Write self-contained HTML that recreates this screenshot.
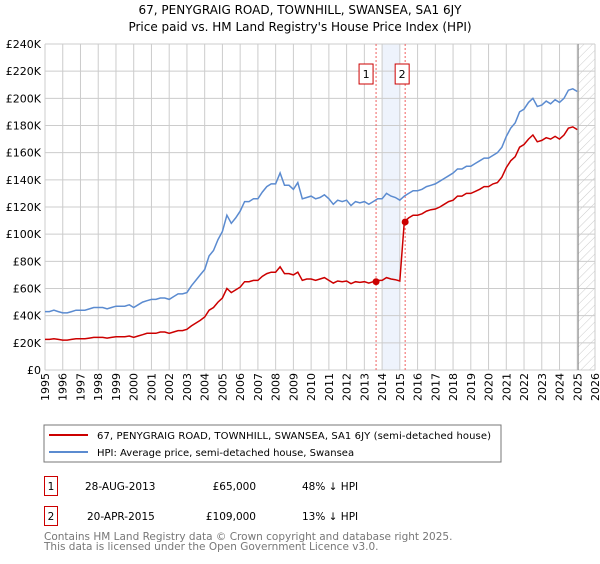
<!DOCTYPE html>
<html><head><meta charset="utf-8"><style>
body{margin:0;background:#fff;width:600px;height:560px;overflow:hidden;font-family:"DejaVu Sans","Liberation Sans",sans-serif;}
svg text{font-family:"DejaVu Sans","Liberation Sans",sans-serif;}
</style></head><body>
<svg id="c" width="600" height="560">
<text x="300" y="14" text-anchor="middle" font-size="12">67, PENYGRAIG ROAD, TOWNHILL, SWANSEA, SA1 6JY</text>
<text x="300" y="31" text-anchor="middle" font-size="12">Price paid vs. HM Land Registry's House Price Index (HPI)</text>
<g id="grid"></g><g id="marks"></g><g id="axes"></g>
<rect x="44" y="425" width="457" height="37" fill="#fff" stroke="#777"/>
<line x1="49" y1="435" x2="88" y2="435" stroke="#cc0000" stroke-width="2"/>
<text x="97" y="439" font-size="10" textLength="394">67, PENYGRAIG ROAD, TOWNHILL, SWANSEA, SA1 6JY (semi-detached house)</text>
<line x1="49" y1="452" x2="88" y2="452" stroke="#5b8bd0" stroke-width="2"/>
<text x="97" y="456" font-size="10">HPI: Average price, semi-detached house, Swansea</text>
<g>
<rect x="44.5" y="476.5" width="13" height="19" fill="none" stroke="#cc0000"/>
<text x="51" y="490" text-anchor="middle" font-size="10.5">1</text>
<text x="85" y="490" font-size="10.5">28-AUG-2013</text>
<text x="256" y="490" text-anchor="end" font-size="10.5">£65,000</text>
<text x="302" y="490" font-size="10.5">48% ↓ HPI</text></g>
<g>
<rect x="44.5" y="506.5" width="13" height="19" fill="none" stroke="#cc0000"/>
<text x="51" y="520" text-anchor="middle" font-size="10.5">2</text>
<text x="87" y="520" font-size="10.5">20-APR-2015</text>
<text x="256" y="520" text-anchor="end" font-size="10.5">£109,000</text>
<text x="302" y="520" font-size="10.5">13% ↓ HPI</text></g>
<text x="44" y="540" font-size="10.5" fill="#777">Contains HM Land Registry data © Crown copyright and database right 2025.</text>
<text x="44" y="550" font-size="10.5" fill="#777">This data is licensed under the Open Government Licence v3.0.</text>
</svg>
<script>
const hpi=[43,43,44,43, 42,42,43,44, 44,44,45,46, 46,46,45,46, 47,47,47,48, 46,48,50,51, 52,52,53,53, 52,54,56,56, 57,62,66,70, 74,84,88,96, 102,114,108,112, 117,124,124,126, 126,131,135,137, 137,145,136,136, 133,138,126,127, 128,126,127,129, 126,122,125,124, 125,121,124,123, 124,122,124,126, 126,130,128,127, 125,128,130,132, 132,133,135,136, 137,139,141,143, 145,148,148,150, 150,152,154,156, 156,158,160,164, 172,178,182,190, 192,197,200,194, 195,198,196,199, 197,200,206,207, 205];
const price=[22.5,22.5,23,22.5, 22,22,22.5,23, 23,23,23.5,24, 24,24,23.5,24, 24.5,24.5,24.5,25, 24,25,26,27, 27,27,28,28, 27,28,29,29, 30,32.5,34.5,36.5, 39,44,46,50, 53,60,57,59, 61,65,65,66, 66,69,71,72, 72,76,71,71, 70,72,66,67, 67,66,67,68, 66,64,65.5,65, 65.5,63.5,65,64.5, 65,64,65,66, 66,68,67,66.5, 65.5,109,112,114, 114,115,117,118, 118.5,120,122,124, 125,128,128,130, 130,131.5,133,135, 135,137,138,142, 149,154,157,164, 166,170,173,168, 169,171,170,172, 170,173,178,179, 177];
const startYear=1995;
const yearTicks=[1995,1996,1997,1998,1999,2000,2001,2002,2003,2004,2005,2006,2007,2008,2009,2010,2011,2012,2013,2014,2015,2016,2017,2018,2019,2020,2021,2022,2023,2024,2025,2026];
const valueTicks=[0,20,40,60,80,100,120,140,160,180,200,220,240];
const saleDates=[2013.66,2015.3];
const saleValues=[65,109];
const saleLabels=["1","2"];
const X0=45,X1=595,Y0=370,Y1=44;
const xs=t=>X0+(t-1995)/(2026-1995)*(X1-X0);
const ys=v=>Y0-v/240*(Y0-Y1);
const NS="http://www.w3.org/2000/svg";
function mk(tag,attrs,parent,txt){const e=document.createElementNS(NS,tag);for(const k in attrs)e.setAttribute(k,attrs[k]);if(txt!=null)e.textContent=txt;parent.appendChild(e);return e;}
const grid=document.getElementById('grid'),marks=document.getElementById('marks'),axes=document.getElementById('axes');
const defs=mk('defs',{},grid);
const pat=mk('pattern',{id:'hatch',width:6,height:6,patternUnits:'userSpaceOnUse',patternTransform:'rotate(45)'},defs);
mk('line',{x1:0,y1:0,x2:0,y2:6,stroke:'#ccc','stroke-width':1},pat);
const shade=mk('rect',{x:xs(2014),y:Y1,width:xs(2015)-xs(2014),height:Y0-Y1,fill:'#eef3fc'},grid);


const hatch=mk('rect',{x:xs(2025.05),y:Y1,width:X1-xs(2025.05),height:Y0-Y1,fill:'url(#hatch)'},grid);


valueTicks.forEach(v=>{
 mk('line',{x1:X0,x2:X1,y1:ys(v),y2:ys(v),stroke:'#ccc'},grid);
 const t=mk('text',{x:X0-4,y:ys(v)+4,'text-anchor':'end','font-size':11},axes,v===0?'£0':'£'+v+'K');
 
 
});
yearTicks.forEach(y=>{
 mk('line',{x1:xs(y),x2:xs(y),y1:Y1,y2:Y0,stroke:'#ccc'},grid);
 const t=mk('text',{transform:`translate(${xs(y)+4},373) rotate(-90)`,'text-anchor':'end','font-size':11},axes,y);
 
 
});
mk('line',{x1:xs(2025.05),x2:xs(2025.05),y1:Y1,y2:Y0,stroke:'#888','stroke-width':1},grid);
saleDates.forEach((d,i)=>{
 mk('line',{x1:xs(d),x2:xs(d),y1:Y1,y2:Y0,stroke:'#f06060','stroke-dasharray':'2,2'},grid);
 const bx=xs(d)-(i===0?10:3);
 const g=mk('g',{},marks);
 
 
 mk('rect',{x:bx-7,y:64,width:14,height:20,fill:'#fff',stroke:'#cc0000'},g);
 mk('text',{x:bx,y:78,'text-anchor':'middle','font-size':11},g,saleLabels[i]);
});
function path(arr){return arr.map((v,i)=>(i?'L':'M')+xs(startYear+i/4).toFixed(1)+','+ys(v).toFixed(1)).join('');}
const hp=mk('path',{d:path(hpi),fill:'none',stroke:'#5b8bd0','stroke-width':1.5},marks);


const pp=mk('path',{d:path(price),fill:'none',stroke:'#cc0000','stroke-width':1.5},marks);


saleDates.forEach((d,i)=>{
 const c=mk('circle',{cx:xs(d),cy:ys(saleValues[i]),r:3.5,fill:'#cc0000'},marks);
 
 
});
</script>
</body></html>
